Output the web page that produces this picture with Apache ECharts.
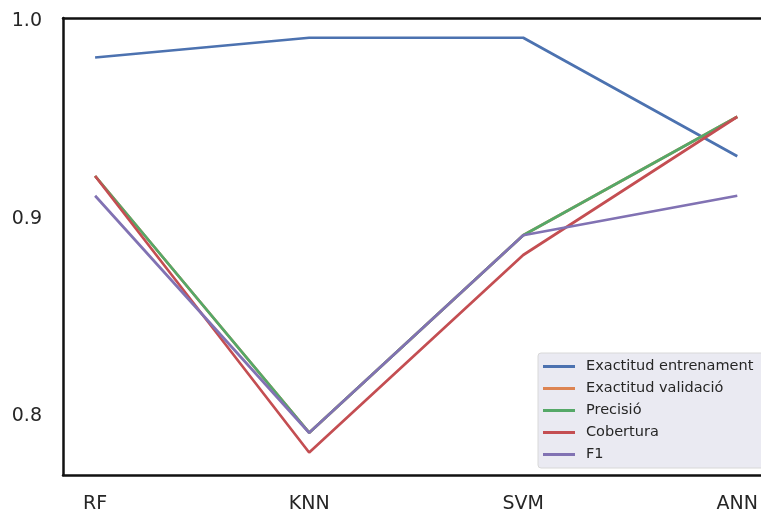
<!DOCTYPE html>
<html>
<head>
<meta charset="utf-8">
<script src="https://cdn.jsdelivr.net/npm/echarts@6/dist/echarts.min.js"></script>
<style>
  html, body { margin: 0; padding: 0; background: #fff; }
  #chart { width: 761px; height: 516px; }
</style>
</head>
<body>
<div id="chart"></div>
<script>
// dades
var models = ["RF", "KNN", "SVM", "ANN"];
var exactitudEntrenament = [0.98, 0.99, 0.99, 0.93];
var exactitudValidacio = [0.92, 0.79, 0.89, 0.95];
var precisio = [0.92, 0.79, 0.89, 0.95];
var cobertura = [0.92, 0.78, 0.88, 0.95];
var f1 = [0.91, 0.79, 0.89, 0.91];
var yTicks = [0.8, 0.9, 1.0];

var noms = ["Exactitud entrenament", "Exactitud validació", "Precisió", "Cobertura", "F1"];
var colors = ["#4c72b0", "#dd8452", "#55a868", "#c44e52", "#8172b3"];
var valors = [exactitudEntrenament, exactitudValidacio, precisio, cobertura, f1];

function punts(arr) {
	var out = [];
	for (var i = 0; i < arr.length; i++) {
		out.push([i, arr[i]]);
	}
	return out;
}

var series = [];
for (var s = 0; s < noms.length; s++) {
	series.push({
		name: noms[s],
		type: 'line',
		data: punts(valors[s]),
		symbol: 'none',
		lineStyle: { width: 2.7, color: colors[s] },
		itemStyle: { color: colors[s] },
		animation: false
	});
}

// vores del gràfic (esquerra, dalt, baix)
function vora() {
	return { show: true, onZero: false, lineStyle: { color: '#111', width: 2.5 } };
}

var myChart = echarts.init(document.getElementById('chart'));
var option = {
	backgroundColor: '#ffffff',
	color: colors,
	grid: {
		left: 63,
		top: 18,
		right: 0,
		bottom: 41
	},
	xAxis: [{
		type: 'value',
		position: 'bottom',
		min: -0.15,
		max: 3.11,
		axisLine: vora(),
		axisTick: { show: false },
		splitLine: { show: false },
		axisLabel: {
			customValues: [0, 1, 2, 3],
			formatter: function (v) { return models[Math.round(v)]; },
			fontFamily: 'DejaVu Sans',
			fontSize: 19,
			color: '#262626',
			margin: 20
		}
	}, {
		type: 'value',
		position: 'top',
		min: -0.15,
		max: 3.11,
		axisLine: vora(),
		axisTick: { show: false },
		axisLabel: { show: false },
		splitLine: { show: false }
	}],
	yAxis: {
		type: 'value',
		position: 'left',
		min: 0.7686,
		max: 1.0,
		axisLine: vora(),
		axisTick: { show: false },
		splitLine: { show: false },
		axisLabel: {
			customValues: yTicks,
			formatter: function (v) { return '{t|' + v.toFixed(1) + '}'; },
			margin: 21,
			rich: {
				t: {
					fontFamily: 'DejaVu Sans',
					fontSize: 19,
					color: '#262626',
					padding: [7, 0, 0, 0]
				}
			}
		}
	},
	legend: {
		orient: 'vertical',
		left: 538,
		top: 353,
		data: noms,
		icon: 'rect',
		itemWidth: 32,
		itemHeight: 3,
		itemGap: 5,
		padding: [5, 12, 5, 5],
		backgroundColor: '#eaeaf2',
		borderColor: '#d8d8d8',
		borderWidth: 1,
		borderRadius: 3,
		textStyle: {
			fontFamily: 'DejaVu Sans',
			fontSize: 14.5,
			color: '#262626',
			lineHeight: 17,
			padding: [0, 0, 0, 6]
		}
	},
	series: series
};
myChart.setOption(option);
</script>
</body>
</html>
